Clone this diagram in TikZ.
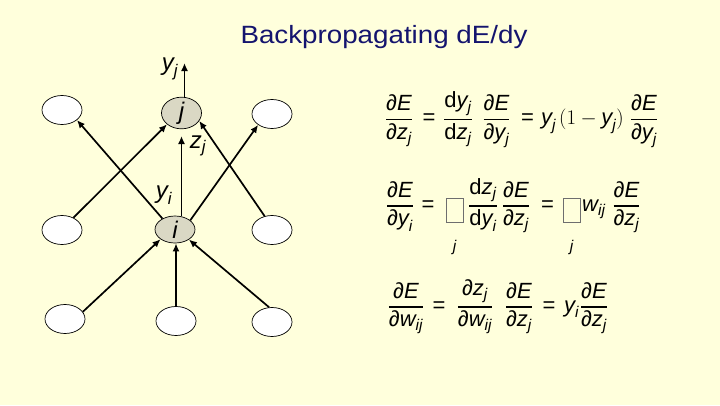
\documentclass[tikz,border=0pt]{standalone}
\usepackage{amsmath}
\usepackage{fontspec}
\setmainfont{Liberation Sans}
\usetikzlibrary{shapes.geometric,arrows.meta}
\DeclareMathSizes{22}{22}{15.5}{11}
\definecolor{bg}{RGB}{255,255,220}
\definecolor{titleblue}{RGB}{20,20,110}
\definecolor{hidfill}{RGB}{218,216,196}
\definecolor{boxgray}{RGB}{110,110,110}
\newcommand{\vv}[1]{\text{\itshape #1}}
\newcommand{\up}[1]{\text{#1}}
\newcommand{\fr}[2]{\genfrac{}{}{1.1pt}{0}{#1}{#2}}
\tikzset{
  unit/.style={ellipse,draw=black,line width=0.7pt,fill=white,minimum width=40pt,minimum height=29pt,inner sep=0pt},
  hid/.style={unit,minimum height=27pt,fill=hidfill,font=\fontsize{24}{26}\selectfont\itshape},
  arr/.style={line width=1.7pt,-{Latex[length=8pt,width=7pt]}},
  lab/.style={font=\fontsize{24}{26}\selectfont,inner sep=0pt},
  eqp/.style={font=\fontsize{22}{26}\selectfont,anchor=base,inner sep=0pt},
  eqw/.style={eqp,anchor=base west},
  sumbox/.style={draw=boxgray,line width=0.7pt,minimum width=17pt,minimum height=24pt,inner sep=0pt},
  sumidx/.style={font=\fontsize{15.5}{17}\selectfont\itshape,anchor=base,inner sep=0pt}
}
\begin{document}
\begin{tikzpicture}[x=1pt,y=-1pt]
\fill[bg] (0,0) rectangle (720,405);
\useasboundingbox (0,0) rectangle (720,405);
\node[font=\fontsize{25}{28}\selectfont,text=titleblue] (title) at (384,37) {\scalebox{1.11}[1]{Backpropagating dE/dy}};
% units
\node[unit] (lt) at (62,110) {};
\node[hid] (j) at (181.5,113) {j};
\node[unit] (rt) at (272,114) {};
\node[unit] (lm) at (62,230) {};
\node[hid] (i) at (175,229.5) {i};
\node[unit] (rm) at (272,230) {};
\node[unit] (lb) at (65,319) {};
\node[unit] (mb) at (176,321) {};
\node[unit] (rb) at (272,322) {};
\coordinate (ytop) at (184.5,63);
\coordinate (zt) at (181.5,136);
% connectors
\draw[arr] (j.north -| ytop) -- (ytop);
\draw[arr] (i.north -| zt) -- (zt);
\draw[arr] (i.139) -- (lt.-34);
\draw[arr] (lm.47) -- (j.218);
\draw[arr] (i.31) -- (rt.218);
\draw[arr] (rm.118) -- (j.-24);
\draw[arr] (lb.22) -- (i.214);
\draw[arr] (mb.north -| mb) -- (i.south -| mb);
\draw[arr] (rb.101) -- (i.-36);
% labels
\node[lab] (lyj) at (170,69) {$\vv{y}_{\vv{j}}$};
\node[lab] (lzj) at (198,146) {$\vv{z}_{\vv{j}}$};
\node[lab] (lyi) at (164,195) {$\vv{y}_{\vv{i}}$};
% equation 1 (axis y=119.3)
\node[eqp] (e1a) at (399,124.8) {$\displaystyle\fr{\up{∂}\vv{E}}{\up{∂}\vv{z}_{\vv{j}}}$};
\node[eqp] (e1q1) at (429,124.8) {=};
\node[eqp] (e1b) at (458,124.8) {$\displaystyle\fr{\up{d}\vv{y}_{\vv{j}}}{\up{d}\vv{z}_{\vv{j}}}$};
\node[eqp] (e1c) at (496.5,124.8) {$\displaystyle\fr{\up{∂}\vv{E}}{\up{∂}\vv{y}_{\vv{j}}}$};
\node[eqp] (e1q2) at (527.5,124.8) {=};
\node[eqw] (e1d) at (541,124.8) {$\vv{y}_{\vv{j}}$};
\node[eqw] (e1e) at (559,124.8) {$(1-\vv{y}_{\vv{j}})$};
\node[eqp] (e1f) at (644,124.8) {$\displaystyle\fr{\up{∂}\vv{E}}{\up{∂}\vv{y}_{\vv{j}}}$};
% equation 2 (axis y=205.7)
\node[eqp] (e2a) at (400,211.2) {$\displaystyle\fr{\up{∂}\vv{E}}{\up{∂}\vv{y}_{\vv{i}}}$};
\node[eqp] (e2q1) at (428,211.2) {=};
\node[sumbox] (s1) at (454.5,210) {};
\node[sumidx] (s1j) at (454.5,251) {j};
\node[eqp] (e2b) at (483,211.2) {$\displaystyle\fr{\up{d}\vv{z}_{\vv{j}}}{\up{d}\vv{y}_{\vv{i}}}$};
\node[eqp] (e2c) at (516,211.2) {$\displaystyle\fr{\up{∂}\vv{E}}{\up{∂}\vv{z}_{\vv{j}}}$};
\node[eqp] (e2q2) at (547.5,211.2) {=};
\node[sumbox] (s2) at (571.5,210) {};
\node[sumidx] (s2j) at (571.5,251) {j};
\node[eqw] (e2d) at (582,211.2) {$\vv{w}_{\vv{ij}}$};
\node[eqp] (e2e) at (626.5,211.2) {$\displaystyle\fr{\up{∂}\vv{E}}{\up{∂}\vv{z}_{\vv{j}}}$};
% equation 3 (axis y=306.7)
\node[eqp] (e3a) at (406,312.2) {$\displaystyle\fr{\up{∂}\vv{E}}{\up{∂}\vv{w}_{\vv{ij}}}$};
\node[eqp] (e3q1) at (439,312.2) {=};
\node[eqp] (e3b) at (475,312.2) {$\displaystyle\fr{\up{∂}\vv{z}_{\vv{j}}}{\up{∂}\vv{w}_{\vv{ij}}}$};
\node[eqp] (e3c) at (519,312.2) {$\displaystyle\fr{\up{∂}\vv{E}}{\up{∂}\vv{z}_{\vv{j}}}$};
\node[eqp] (e3q2) at (549,312.2) {=};
\node[eqw] (e3d) at (564,312.2) {$\vv{y}_{\vv{i}}$};
\node[eqp] (e3e) at (594,312.2) {$\displaystyle\fr{\up{∂}\vv{E}}{\up{∂}\vv{z}_{\vv{j}}}$};
\end{tikzpicture}
\end{document}
